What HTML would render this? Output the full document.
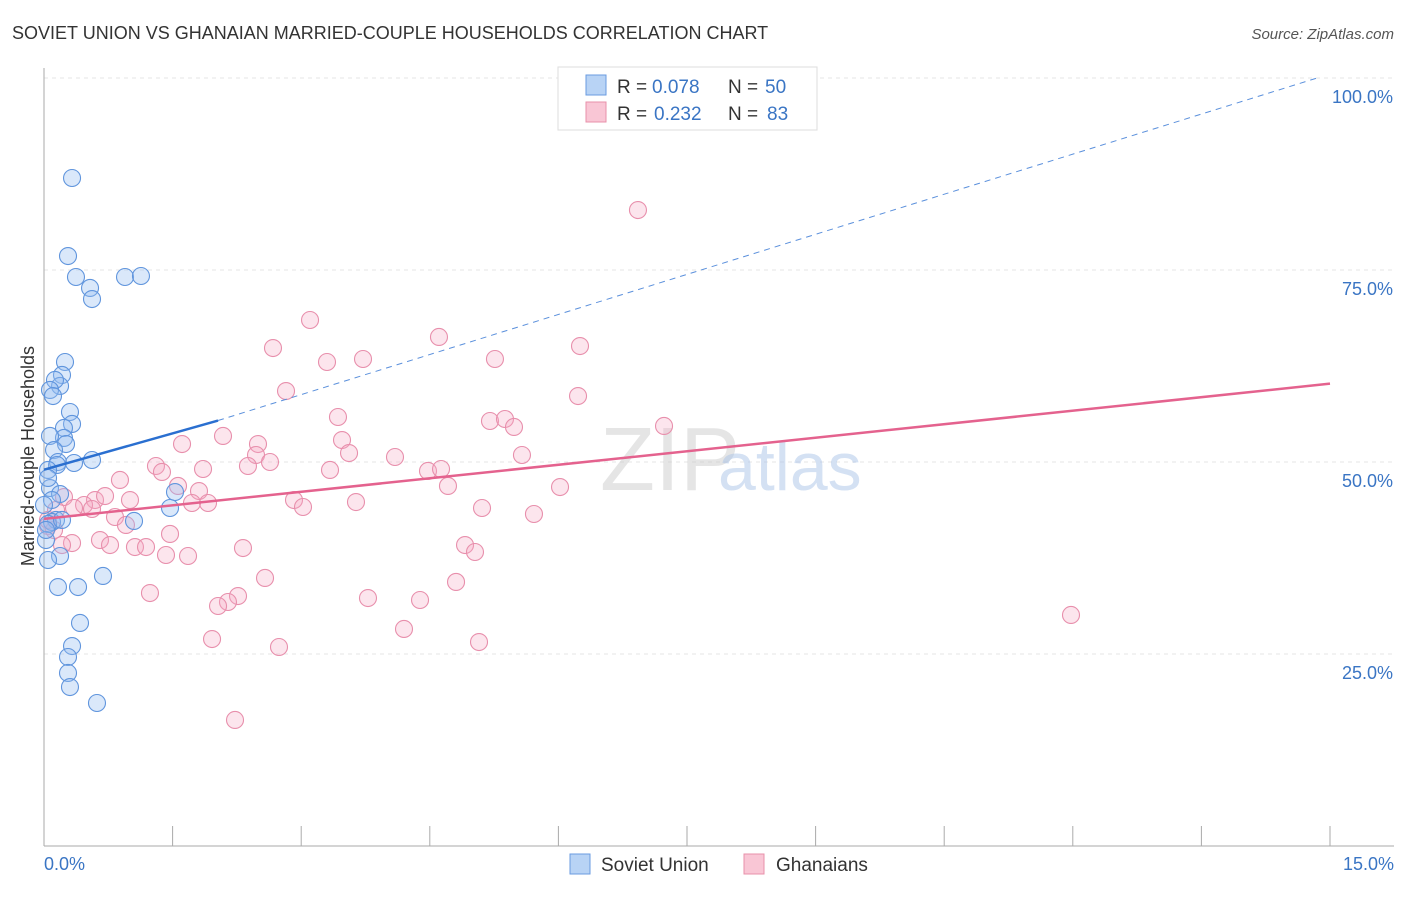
<!DOCTYPE html>
<html><head><meta charset="utf-8"><style>
body{margin:0;background:#fff;font-family:"Liberation Sans",sans-serif}
svg text{font-family:"Liberation Sans",sans-serif}
</style></head><body>
<svg id="chart" width="1406" height="892">
<text x="12" y="39" font-size="18" fill="#333">SOVIET UNION VS GHANAIAN MARRIED-COUPLE HOUSEHOLDS CORRELATION CHART</text>
<text x="1394" y="39" font-size="15" fill="#555" text-anchor="end" font-style="italic">Source: ZipAtlas.com</text>
<g id="grid"></g>
<line x1="44" y1="68" x2="44" y2="846" stroke="#aaa"/>
<line x1="44" y1="846" x2="1394" y2="846" stroke="#aaa"/>
<text x="600" y="490" font-size="90" fill="#ccc" opacity="0.5" font-family="Liberation Serif">ZIP</text>
<text x="718" y="490" font-size="68" fill="#aac4e8" opacity="0.5">atlas</text>
<text transform="translate(34,456) rotate(-90)" font-size="18" fill="#333" text-anchor="middle">Married-couple Households</text>
<text x="44" y="870" font-size="18" fill="#3a75c4">0.0%</text>
<text x="1394" y="870" font-size="18" fill="#3a75c4" text-anchor="end">15.0%</text>
<g id="pts"></g>
<g id="lines"></g>
<g>
<rect x="558" y="67" width="259" height="63" fill="#fff" stroke="#ddd"/>
<rect x="586" y="75" width="20" height="20" fill="#b8d3f5" stroke="#6a9be0"/>
<rect x="586" y="102" width="20" height="20" fill="#f9c6d5" stroke="#e890aa"/>
<text x="617" y="93" font-size="19" fill="#333">R =</text>
<text x="652" y="93" font-size="19" fill="#3a75c4">0.078</text>
<text x="728" y="93" font-size="19" fill="#333">N =</text>
<text x="765" y="93" font-size="19" fill="#3a75c4">50</text>
<text x="617" y="120" font-size="19" fill="#333">R =</text>
<text x="654" y="120" font-size="19" fill="#3a75c4">0.232</text>
<text x="728" y="120" font-size="19" fill="#333">N =</text>
<text x="767" y="120" font-size="19" fill="#3a75c4">83</text>
</g>
<g>
<rect x="570" y="854" width="20" height="20" fill="#b8d3f5" stroke="#6a9be0"/>
<text x="601" y="871" font-size="19" fill="#333">Soviet Union</text>
<rect x="744" y="854" width="20" height="20" fill="#f9c6d5" stroke="#e890aa"/>
<text x="776" y="871" font-size="19" fill="#333">Ghanaians</text>
</g>
</svg>
<script>
const yTicks=[25,50,75,100];
const xTicks=[1.5,3,4.5,6,7.5,9,10.5,12,13.5,15];
const bluePx=[[72,178],[68,256],[76,277],[90,288],[92,299],[125,277],[141,276],[65,362],[62,375],[60,386],[55,380],[50,390],[53,396],[70,412],[72,424],[64,428],[64,438],[50,436],[66,444],[54,450],[58,462],[57,465],[74,463],[92,460],[48,470],[175,492],[50,488],[60,494],[48,478],[170,508],[134,521],[56,520],[52,522],[48,524],[46,540],[60,556],[48,560],[103,576],[58,587],[78,587],[80,623],[72,646],[68,657],[68,673],[70,687],[97,703],[46,530],[52,500],[44,505],[62,520]];
const pinkPx=[[638,210],[310,320],[439,337],[273,348],[580,346],[327,362],[363,359],[495,359],[286,391],[578,396],[338,417],[490,421],[505,419],[514,427],[664,426],[342,440],[182,444],[223,436],[258,444],[256,455],[349,453],[395,457],[522,455],[270,462],[248,466],[156,466],[162,472],[330,470],[203,469],[428,471],[441,469],[448,486],[120,480],[178,486],[199,491],[560,487],[64,497],[95,500],[130,500],[105,496],[294,500],[84,505],[208,503],[192,503],[303,507],[356,502],[482,508],[74,508],[92,509],[115,517],[534,514],[126,525],[170,534],[48,526],[54,530],[100,540],[72,543],[110,545],[135,547],[146,547],[243,548],[166,555],[188,556],[465,545],[475,552],[265,578],[456,582],[150,593],[238,596],[228,602],[218,606],[368,598],[420,600],[404,629],[212,639],[279,647],[479,642],[1071,615],[235,720],[48,520],[56,510],[62,545]];
const sovietX=bluePx.map(p=>+((p[0]-44)/1286*15).toFixed(3));
const sovietY=bluePx.map(p=>+((846-p[1])/768*100).toFixed(2));
const ghanaX=pinkPx.map(p=>+((p[0]-44)/1286*15).toFixed(3));
const ghanaY=pinkPx.map(p=>+((846-p[1])/768*100).toFixed(2));
const blueTrend=[[0,49],[2.03,55.4],[14.85,100]];
const pinkTrend=[[0,42.6],[15,60.2]];
const X=v=>44+v/15*1286, Y=v=>846-v/100*768;
const NS="http://www.w3.org/2000/svg";
const grid=document.getElementById('grid');
yTicks.forEach(t=>{
 const l=document.createElementNS(NS,'line');
 l.setAttribute('x1',44);l.setAttribute('x2',1394);l.setAttribute('y1',Y(t));l.setAttribute('y2',Y(t));
 l.setAttribute('stroke','#e6e6e6');l.setAttribute('stroke-dasharray','4,4');
 
 
 grid.appendChild(l);
 const tx=document.createElementNS(NS,'text');
 tx.setAttribute('x',1393);tx.setAttribute('y',Y(t)+25);tx.setAttribute('text-anchor','end');
 tx.setAttribute('font-size','18');tx.setAttribute('fill','#3a75c4');tx.textContent=t.toFixed(1)+'%';
 
 
 grid.appendChild(tx);
});
xTicks.forEach(t=>{
 const l=document.createElementNS(NS,'line');
 l.setAttribute('x1',X(t));l.setAttribute('x2',X(t));l.setAttribute('y1',826);l.setAttribute('y2',846);
 l.setAttribute('stroke','#aaa');
 
 
 grid.appendChild(l);
});
const pts=document.getElementById('pts');
function dot(x,y,fill,stroke,name){
 const c=document.createElementNS(NS,'circle');
 c.setAttribute('cx',X(x));c.setAttribute('cy',Y(y));c.setAttribute('r',8.5);
 c.setAttribute('fill',fill);c.setAttribute('stroke',stroke);c.setAttribute('stroke-width','1.1');
 
 
 pts.appendChild(c);
}
ghanaX.forEach((x,i)=>dot(x,ghanaY[i],'rgba(246,170,195,0.3)','#e88fac','ghanaian-point'));
sovietX.forEach((x,i)=>dot(x,sovietY[i],'rgba(150,190,240,0.35)','#6095dd','soviet-point'));
const lines=document.getElementById('lines');
function seg(a,b,col,w,dash,name){
 const l=document.createElementNS(NS,'line');
 l.setAttribute('x1',X(a[0]));l.setAttribute('y1',Y(a[1]));l.setAttribute('x2',X(b[0]));l.setAttribute('y2',Y(b[1]));
 l.setAttribute('stroke',col);l.setAttribute('stroke-width',w);if(dash)l.setAttribute('stroke-dasharray',dash);
 
 
 lines.appendChild(l);
}
seg(blueTrend[0],blueTrend[1],'#2a6fd0',2.5,null,'soviet-trend-line');
seg(blueTrend[1],blueTrend[2],'#5b90dc',1,'6,5','soviet-trend-extension');
seg(pinkTrend[0],pinkTrend[1],'#e4628e',2.5,null,'ghanaian-trend-line');
</script>
</body></html>
